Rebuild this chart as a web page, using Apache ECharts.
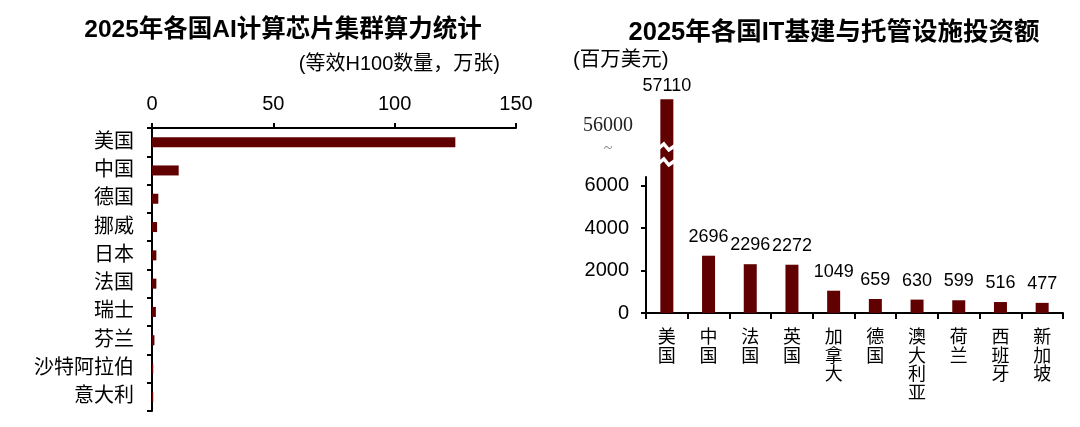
<!DOCTYPE html>
<html><head><meta charset="utf-8">
<script src="https://cdn.jsdelivr.net/npm/echarts@6/dist/echarts.min.js"></script>
<style>html,body{margin:0;padding:0;background:#fff}#c{width:1080px;height:427px}</style>
</head><body><div id="c"></div>
<script>
// Left chart: AI compute clusters (H100-equivalent, 10k units)
const aiCountries = ['美国','中国','德国','挪威','日本','法国','瑞士','芬兰','沙特阿拉伯','意大利'];
const aiValues = [125, 11, 2.6, 2.1, 1.8, 1.8, 1.6, 1.0, 0.5, 0.5];
const aiTicks = [0, 50, 100, 150];
// Right chart: IT infrastructure investment (USD mn)
const itCountries = ['美国','中国','法国','英国','加拿大','德国','澳大利亚','荷兰','西班牙','新加坡'];
const itValues = [57110, 2696, 2296, 2272, 1049, 659, 630, 599, 516, 477];
const itTicks = [0, 2000, 4000, 6000];
const itBreakLabel = [56000];

const FONT = "'Liberation Sans','Noto Sans CJK SC',sans-serif";
const RED = '#600000';
const chart = echarts.init(document.getElementById('c'));
const axLine = {show:true, lineStyle:{color:'#000', width:2}};
const axTick = {show:true, length:5, lineStyle:{color:'#000', width:2}};
const plain = v => String(v);

const option = {
  animation:false,
  textStyle:{fontFamily:FONT},
  grid:[
    {left:152, top:128, width:364, height:283},
    {left:646, top:177, width:417, height:136},
    {left:646, top:90, width:417, height:87}
  ],
  xAxis:[
    {gridIndex:0, type:'value', position:'top', min:0, max:150, interval:50,
     axisLine:axLine, axisTick:{...axTick, customValues:aiTicks}, splitLine:{show:false},
     axisLabel:{color:'#000', fontSize:20, margin:14, fontFamily:FONT, customValues:aiTicks, formatter:plain}},
    {gridIndex:1, type:'category', data:itCountries, boundaryGap:true,
     axisLine:axLine, axisTick:{show:true, length:6, interval:0, lineStyle:{color:'#000', width:2}},
     axisLabel:{color:'#000', fontSize:18, lineHeight:18.5, margin:16, interval:0, fontFamily:FONT,
       formatter:v=>v.split('').join('\n')}},
    {gridIndex:2, type:'category', data:itCountries, show:false}
  ],
  yAxis:[
    {gridIndex:0, type:'category', data:aiCountries, inverse:true,
     axisLine:axLine, axisTick:{show:true, length:5, interval:0, lineStyle:{color:'#000', width:2}},
     axisLabel:{color:'#000', fontSize:20, margin:18, interval:0, fontFamily:FONT}},
    {gridIndex:1, type:'value', min:0, max:6400, interval:2000,
     axisLine:axLine, axisTick:{...axTick, customValues:itTicks}, splitLine:{show:false},
     axisLabel:{color:'#000', fontSize:20, margin:17, fontFamily:FONT, customValues:itTicks, formatter:plain}},
    {gridIndex:2, type:'value', min:53800, max:57500,
     axisLine:{show:false}, axisTick:{show:false}, splitLine:{show:false},
     axisLabel:{color:'#222', fontSize:20, margin:13, fontFamily:"'Liberation Serif','Noto Serif',serif", customValues:itBreakLabel, formatter:plain}}
  ],
  series:[
    {type:'bar', xAxisIndex:0, yAxisIndex:0, data:aiValues, barWidth:10, itemStyle:{color:RED}},
    {type:'bar', xAxisIndex:1, yAxisIndex:1, barWidth:13, itemStyle:{color:RED},
     data:itValues.map((v,i)=> i===0 ? {value:v, label:{show:false}} : v),
     label:{show:true, position:'top', distance:10, color:'#000', fontSize:18, fontFamily:FONT}},
    {type:'bar', xAxisIndex:2, yAxisIndex:2, barWidth:13, itemStyle:{color:RED},
     data:itValues.map((v,i)=> i===0 ? v : '-'),
     label:{show:true, position:'top', distance:4, color:'#000', fontSize:18, fontFamily:FONT}}
  ]
};
chart.setOption(option);

const p = chart.convertToPixel({xAxisIndex:1, yAxisIndex:1}, [itCountries[0], 0]);
const cx = p[0];
function zig(y){
  return {type:'polyline', z:100, shape:{points:[[cx-9,y+2],[cx-3,y-3],[cx+2,y+3],[cx+9,y-2]]},
    style:{stroke:'#fff', lineWidth:3.5, fill:null}};
}
chart.setOption({graphic:[
  {type:'text', x:283, y:30, style:{text:'2025年各国AI计算芯片集群算力统计', font:"bold 24.5px "+FONT, fill:'#000', align:'center', verticalAlign:'middle'}},
  {type:'text', x:500, y:64, style:{text:'(等效H100数量，万张)', font:"20px "+FONT, fill:'#000', align:'right', verticalAlign:'middle'}},
  {type:'text', x:834, y:33, style:{text:'2025年各国IT基建与托管设施投资额', font:"bold 25.5px "+FONT, fill:'#000', align:'center', verticalAlign:'middle'}},
  {type:'text', x:573, y:60, style:{text:'(百万美元)', font:"20.5px "+FONT, fill:'#000', align:'left', verticalAlign:'middle'}},
  {type:'text', x:608, y:149, style:{text:'~', font:"16px 'Liberation Serif',serif", fill:'#888', align:'center', verticalAlign:'middle'}},
  zig(147), zig(162)
]});
</script></body></html>
